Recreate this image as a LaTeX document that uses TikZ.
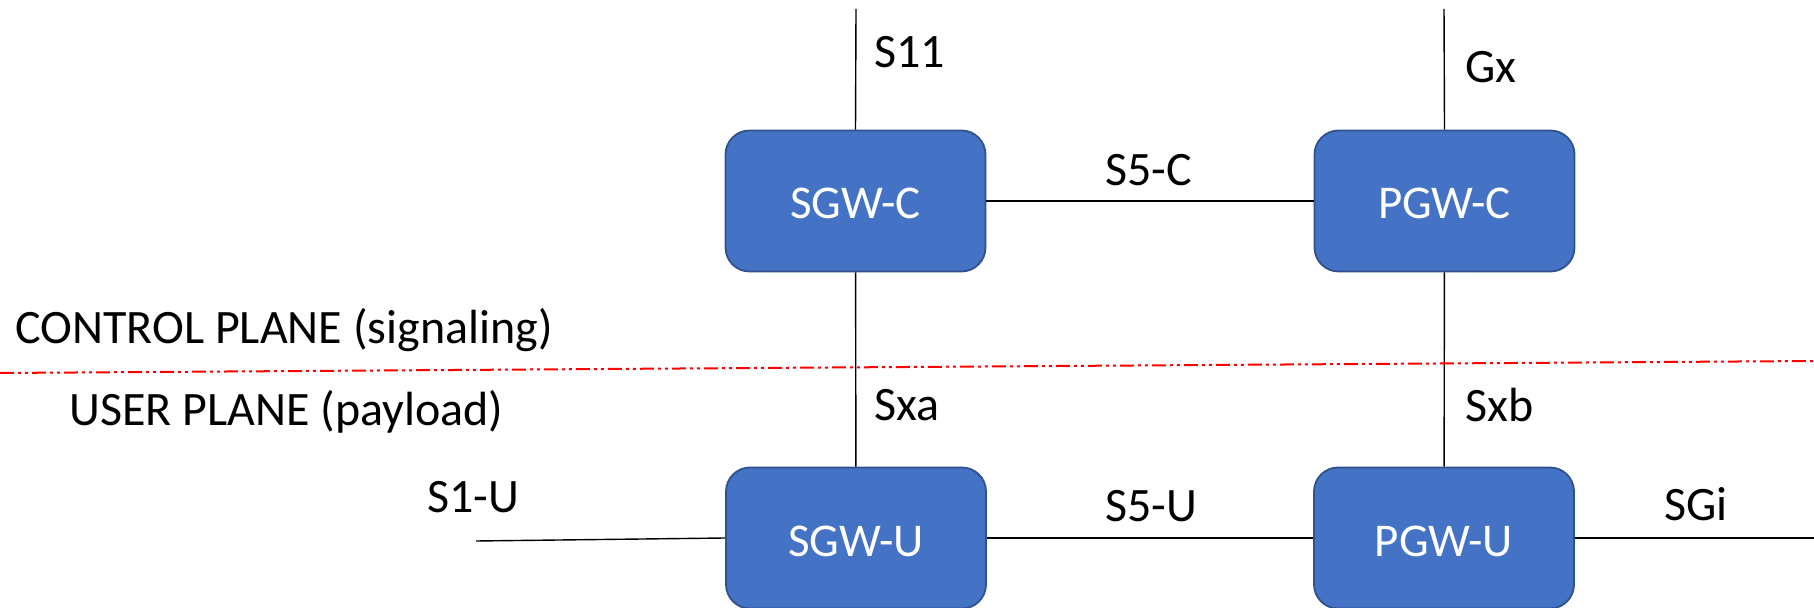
\documentclass[tikz,border=0pt]{standalone}
\usepackage{fontspec}
\setmainfont{Carlito}
\usetikzlibrary{calc}
\definecolor{gwfill}{HTML}{4472C4}
\definecolor{gwline}{HTML}{2F528F}
\tikzset{
  gw/.style={draw=gwline,line width=0.9pt,fill=gwfill,rounded corners=12pt,minimum width=130pt,minimum height=70.5pt,inner sep=0pt,text height=18pt,text depth=0pt,text=white,font=\fontsize{23.5}{29}\selectfont},
  lbl/.style={anchor=west,inner sep=0pt,font=\fontsize{24}{29}\selectfont},
  link/.style={line width=0.7pt}
}
\begin{document}
\begin{tikzpicture}[x=0.5pt,y=-0.5pt]
\useasboundingbox (0,0) rectangle (1814,608);
\foreach \n/\t/\x/\y in {sgwc/SGW-C/855.5/201, pgwc/PGW-C/1444.5/201, sgwu/SGW-U/856/538, pgwu/PGW-U/1444/538} \node[gw] (\n) at (\x,\y) {\t};
\coordinate (s11end) at (856,9);
\coordinate (gxend) at (1444,9);
\coordinate (s1uend) at (476,541);
\coordinate (sgiend) at (1814,538);
\draw[link] (s11end) -- (sgwc.north);
\draw[link] (gxend) -- (pgwc.north);
\draw[link] (sgwc) -- (pgwc);
\draw[link] (sgwc) -- (sgwu);
\draw[link] (pgwc) -- (pgwu);
\draw[link] (sgwu) -- (pgwu);
\draw[link] (s1uend) -- (sgwu.west);
\draw[link] (pgwu) -- (sgiend);
% plane border
\draw[red,line width=1pt,dash pattern=on 7pt off 2pt on 1.5pt off 2pt on 1.5pt off 2pt] (0,373) -- (1814,361);
\foreach \t/\x/\y in {S11/874/52, Gx/1465/67, S5-C/1105/170, Sxa/874/405, Sxb/1465/405, S1-U/427/497, S5-U/1105/506, SGi/1664/504} \node[lbl] (l\t) at (\x,\y) {\t};
\node[lbl] (cplane) at (15,330) {CONTROL PLANE (signaling)};
\node[lbl] (uplane) at (69,412) {USER PLANE (payload)};
\end{tikzpicture}
\end{document}
